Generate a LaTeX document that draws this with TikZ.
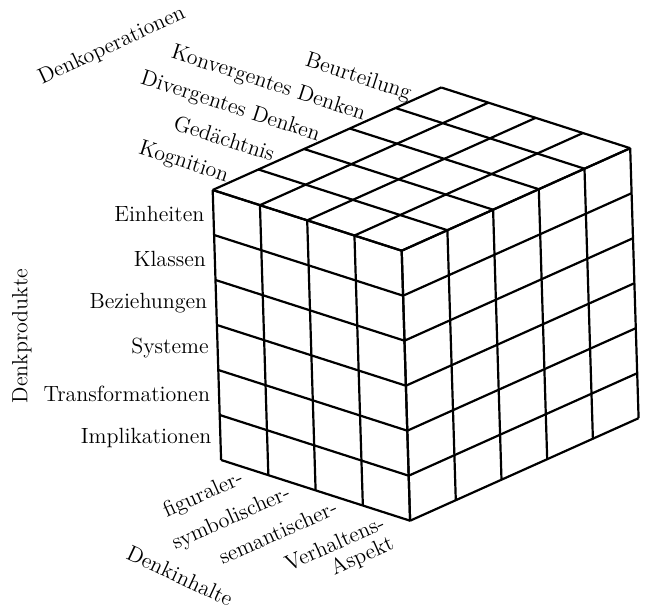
\documentclass[tikz,border=0pt]{standalone}
\usetikzlibrary{calc}

\tikzstyle{gridline}=[black,line width=1.1pt,line join=miter]
\tikzstyle{produkt}=[anchor=east,inner sep=0pt,xshift=-4.3pt,yshift=-0.5pt,font=\fontsize{11}{13}\selectfont]
\tikzstyle{operation}=[anchor=base east,rotate=-18,inner sep=0pt,xshift=-4pt,yshift=-2.5pt,font=\fontsize{11}{13}\selectfont]
\tikzstyle{inhalt}=[anchor=north east,rotate=24,inner sep=0pt,align=right,xshift=-3pt,yshift=1pt,font=\fontsize{11}{13}\selectfont]
\tikzstyle{achse}=[inner sep=0pt,font=\fontsize{11}{13}\selectfont]

\begin{document}
\begin{tikzpicture}[x={(23.625pt,-7.59pt)},y={(0.7pt,-22.5pt)},z={(22.85pt,10.25pt)}]
			\useasboundingbox (-106.35pt,-211.5pt) rectangle (216.15pt,95pt);
			%Adding the front face
			\foreach \i in {0,...,4}
			\draw[gridline] (\i,0,0) -- (\i,6,0);
			\foreach \j in {0,...,6}
			\draw[gridline] (0,\j,0) -- (4,\j,0);
			%Adding the top face
			\foreach \i in {0,...,4}
			\draw[gridline] (\i,0,0) -- (\i,0,5);
			\foreach \k in {0,...,5}
			\draw[gridline] (0,0,\k) -- (4,0,\k);
			%Adding the side face
			\foreach \k in {0,...,5}
			\draw[gridline] (4,0,\k) -- (4,6,\k);
			\foreach \j in {0,...,6}
			\draw[gridline] (4,\j,0) -- (4,\j,5);
			%Adding the products
			\foreach \j/\name in 	{0/Einheiten,	1/Klassen,	2/Beziehungen,
									 3/Systeme,		4/Transformationen,	5/Implikationen}
			\node[produkt] (\name) at (0,\j+0.5,0) {\name};
			%Adding the operations
			\foreach \k/\name/\text in 	{0/kog/Kognition,	1/ged/Gedächtnis,	2/div/Divergentes Denken,
										 3/konv/Konvergentes Denken,	4/beur/Beurteilung}
			\node[operation] (\name) at (0,0,\k+0.5) {\text};
			%Adding the contents
			\foreach \i/\name/\text in 	{0/fig/figuraler-,	1/sym/symbolischer-,
										 2/sem/semantischer-,	3/verh/{Verhaltens-\\[-2pt]Aspekt}}
			\node[inhalt] (\name) at (\i+0.5,6,0) {\text};
			%Adding the axis names
			\node[achse,rotate=90] (denkprodukte) at (-95.35pt,-73pt) {Denkprodukte};
			\node[achse,rotate=25] (denkoperationen) at (-50.35pt,72pt) {Denkoperationen};
			\node[achse,rotate=-25] (denkinhalte) at (-16.35pt,-193pt) {Denkinhalte};
		\end{tikzpicture}
\end{document}
